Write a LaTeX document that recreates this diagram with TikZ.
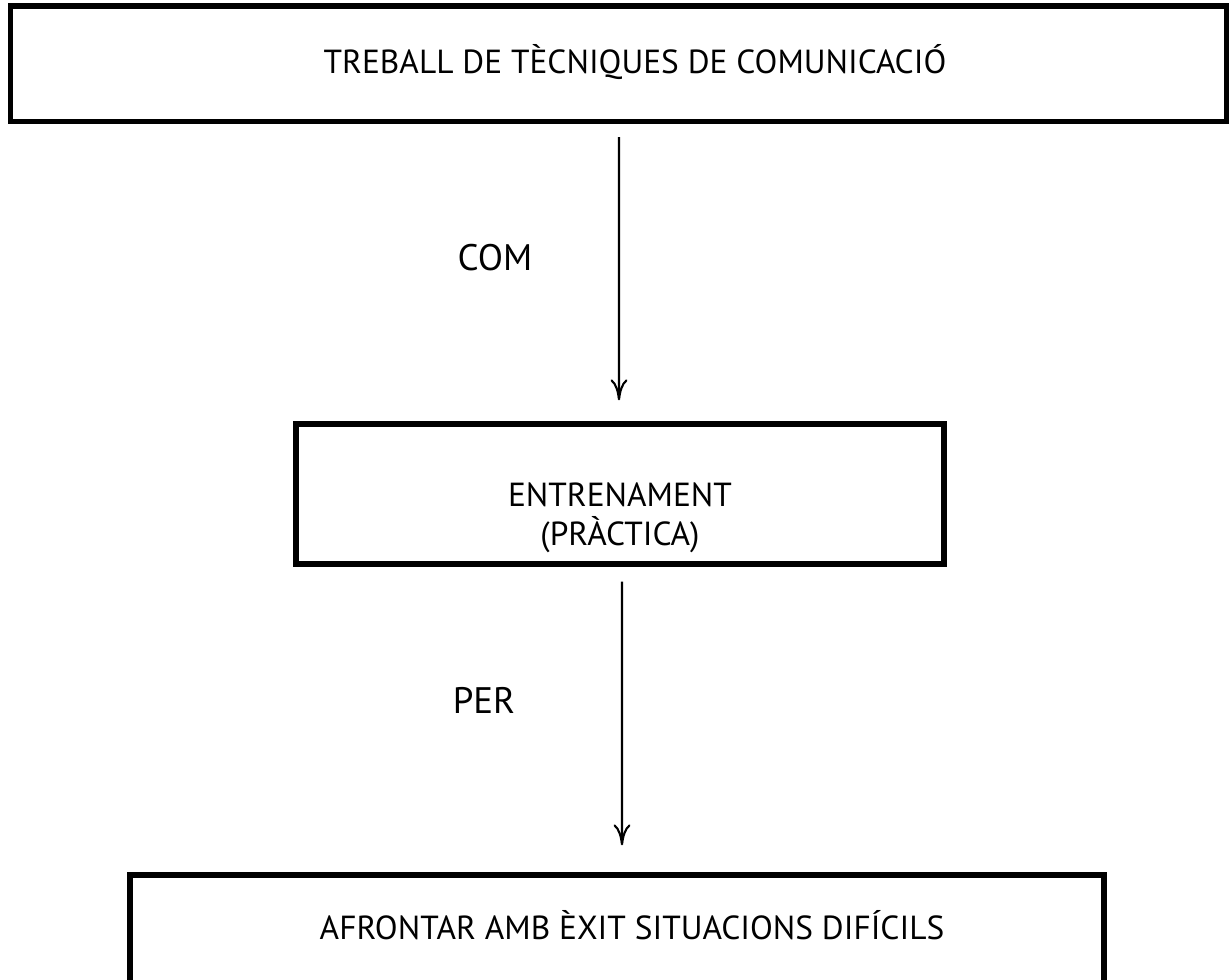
\documentclass[tikz,border=0pt]{standalone}
\usepackage{fontspec}
\setmainfont{PT Sans}
\usetikzlibrary{arrows.meta,positioning}

\begin{document}
\begin{tikzpicture}[x=0.02cm,y=-0.02cm,
  mybox/.style={draw,line width=3pt,rectangle,inner sep=0pt},
  mytext/.style={font=\fontsize{19}{22}\selectfont,align=center,inner sep=0pt},
  mylabel/.style={font=\fontsize{21}{24}\selectfont,inner sep=0pt},
  myflow/.style={line width=1.2pt,-{Computer Modern Rightarrow[length=0.42cm,width=0.34cm]}},
 ]
\useasboundingbox (0,0) rectangle (1231,980);

% boxes
\node[mybox,minimum width=24.32cm,minimum height=2.31cm] (B1) at (618.5,63.75) {};
\node[mybox,minimum width=12.96cm,minimum height=2.8cm] (B2) at (620,494) {};
\node[mybox,minimum width=19.48cm,minimum height=4.3cm] (B3) at (617,982.5) {};

% texts
\node[mytext] (T1) at (635,62) {TREBALL DE TÈCNIQUES DE COMUNICACIÓ};
\node[mytext] (T2) at (620,518) {ENTRENAMENT\\(PRÀCTICA)};
\node[mytext] (T4) at (632,925) {AFRONTAR AMB ÈXIT SITUACIONS DIFÍCILS};

\node[mylabel] (C1) at (495,258) {COM};
\node[mylabel] (C2) at (484,700) {PER};

% arrows
\draw[myflow,shorten <=0.26cm,shorten >=0.42cm] ([xshift=0.01cm]B1.south) -- ([xshift=-0.02cm]B2.north);
\draw[myflow,shorten <=0.3cm,shorten >=0.54cm] ([xshift=0.04cm]B2.south) -- ([xshift=0.1cm]B3.north);

\end{tikzpicture}
\end{document}
